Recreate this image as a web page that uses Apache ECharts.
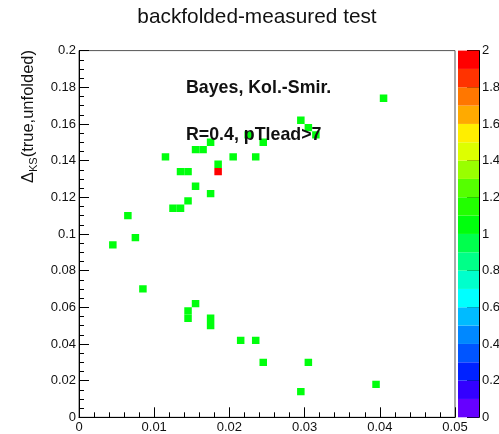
<!DOCTYPE html>
<html>
<head>
<meta charset="utf-8">
<script src="https://cdn.jsdelivr.net/npm/echarts@6/dist/echarts.min.js"></script>
<style>
  html, body { margin: 0; padding: 0; background: #ffffff; }
  #chart { width: 499px; height: 434px; }
</style>
</head>
<body>
<div id="chart"></div>
<script>
// Filled bins of the 2D histogram: bin centres and contents
const binX = [0.0045, 0.0065, 0.0075, 0.0085, 0.0115, 0.0125, 0.0135, 0.0135, 0.0145, 0.0145,
              0.0155, 0.0155, 0.0165, 0.0175, 0.0175, 0.0185, 0.0185, 0.0205, 0.0225, 0.0235,
              0.0245, 0.0295, 0.0305, 0.0315, 0.0405, 0.0155, 0.0145, 0.0145, 0.0175, 0.0175,
              0.0215, 0.0235, 0.0245, 0.0305, 0.0295, 0.0395];
const binY = [0.094, 0.110, 0.098, 0.070, 0.142, 0.114, 0.114, 0.134, 0.134, 0.118,
              0.126, 0.146, 0.146, 0.150, 0.122, 0.138, 0.134, 0.142, 0.154, 0.142,
              0.150, 0.162, 0.158, 0.154, 0.174, 0.062, 0.058, 0.054, 0.054, 0.050,
              0.042, 0.042, 0.030, 0.030, 0.014, 0.018];
const binCount = [1, 1, 1, 1, 1, 1, 1, 1, 1, 1,
                  1, 1, 1, 1, 1, 1, 2, 1, 1, 1,
                  1, 1, 1, 1, 1, 1, 1, 1, 1, 1,
                  1, 1, 1, 1, 1, 1];
// histogram binning (50 x 50 bins over [0,0.05] x [0,0.2])
const binWidthX = 0.001;
const binWidthY = 0.004;

// colour palette (z axis): band edges and colours, bottom to top
const paletteEdges = [0, 0.1, 0.2, 0.3, 0.4, 0.5, 0.6, 0.7, 0.8, 0.9, 1.0,
                      1.1, 1.2, 1.3, 1.4, 1.5, 1.6, 1.7, 1.8, 1.9, 2.0];
const paletteColors = ['#6600ff', '#3300ff', '#0022ff', '#0055ff', '#0088ff',
                       '#00bbff', '#00ffff', '#00ffcc', '#00ff88', '#00ff4d',
                       '#00ff0d', '#22ff00', '#55ff00', '#99ff00', '#ddff00',
                       '#ffee00', '#ffaa00', '#ff7700', '#ff3300', '#ff0000'];

const titleText = 'backfolded-measured test';
const noteLines = ['Bayes, Kol.-Smir.', 'R=0.4, pTlead>7'];
const yTitleParts = ['\u0394', 'KS', '(true,unfolded)'];

const FONT = '"Liberation Sans", Arial, Helvetica, sans-serif';
const TXT = '#111111';

const cellData = binX.map((x, i) => [x, binY[i], binCount[i]]);
const paletteData = paletteColors.map((c, i) => [paletteEdges[i], paletteEdges[i + 1], (paletteEdges[i] + paletteEdges[i + 1]) / 2]);

const pieces = paletteColors.map((c, i) => {
  const p = { gte: paletteEdges[i], color: c };
  if (i === paletteColors.length - 1) p.lte = paletteEdges[i + 1]; else p.lt = paletteEdges[i + 1];
  return p;
});

function renderCell(params, api) {
  const x = api.value(0), y = api.value(1);
  const p0 = api.coord([x - binWidthX / 2, y + binWidthY / 2]);
  const p1 = api.coord([x + binWidthX / 2, y - binWidthY / 2]);
  return {
    type: 'rect',
    shape: { x: p0[0], y: p0[1], width: p1[0] - p0[0], height: p1[1] - p0[1] },
    style: { fill: api.visual('color') }
  };
}

function renderBand(params, api) {
  const p0 = api.coord([0, api.value(1)]);
  const p1 = api.coord([1, api.value(0)]);
  return {
    type: 'rect',
    shape: { x: p0[0], y: p0[1], width: p1[0] - p0[0], height: p1[1] - p0[1] },
    style: { fill: api.visual('color') }
  };
}

// measure text to chain the pieces of the rotated y title
const mctx = document.createElement('canvas').getContext('2d');
function textWidth(str, size) {
  mctx.font = size + 'px ' + FONT;
  return mctx.measureText(str).width;
}
const yMainSize = 16.5, ySubSize = 11;
const wDelta = textWidth(yTitleParts[0], yMainSize);
const wSub = textWidth(yTitleParts[1], ySubSize);
const wMain = textWidth(yTitleParts[2], yMainSize);
const yTitleTop = 50;
const yTitleX = 28.5;
const yTitleStart = yTitleTop + wDelta + wSub + wMain;

const chart = echarts.init(document.getElementById('chart'), null, { renderer: 'canvas' });

const tickLabel = { color: TXT, fontSize: 13, fontFamily: FONT };

chart.setOption({
  backgroundColor: '#ffffff',
  animation: false,
  grid: [
    { left: 79, top: 50.6, width: 376, height: 366.7, show: true, borderColor: '#555555', borderWidth: 1,
      containLabel: false, outerBoundsMode: 'none' },
    { left: 458, top: 50.6, width: 21, height: 366.7, show: false,
      containLabel: false, outerBoundsMode: 'none' }
  ],
  xAxis: [
    {
      gridIndex: 0, type: 'value', min: 0, max: 0.05, interval: 0.01,
      axisLine: { show: true, onZero: false, lineStyle: { color: '#000', width: 1 } },
      axisTick: { show: true, inside: true, length: 10, lineStyle: { color: '#000' } },
      minorTick: { show: true, splitNumber: 5, length: 5, lineStyle: { color: '#000' } },
      axisLabel: Object.assign({ margin: 4 }, tickLabel),
      splitLine: { show: false }, minorSplitLine: { show: false }
    },
    { gridIndex: 1, type: 'value', min: 0, max: 1, show: false }
  ],
  yAxis: [
    {
      gridIndex: 0, type: 'value', min: 0, max: 0.2, interval: 0.02,
      axisLine: { show: true, onZero: false, lineStyle: { color: '#000', width: 1 } },
      axisTick: { show: true, inside: true, length: 10, lineStyle: { color: '#000' } },
      minorTick: { show: true, splitNumber: 4, length: 5, lineStyle: { color: '#000' } },
      axisLabel: Object.assign({ margin: 3 }, tickLabel),
      splitLine: { show: false }, minorSplitLine: { show: false }
    },
    {
      gridIndex: 1, type: 'value', position: 'right', min: 0, max: 2, interval: 0.2,
      axisLine: { show: true, onZero: false, lineStyle: { color: '#000', width: 1 } },
      axisTick: { show: true, inside: true, length: 12, lineStyle: { color: '#000' } },
      axisLabel: Object.assign({ margin: 3 }, tickLabel),
      splitLine: { show: false }
    }
  ],
  visualMap: {
    type: 'piecewise', show: false, dimension: 2, seriesIndex: [0, 1], pieces: pieces
  },
  series: [
    {
      type: 'custom', xAxisIndex: 0, yAxisIndex: 0, data: cellData,
      renderItem: renderCell, clip: true, silent: true, z: 2
    },
    {
      type: 'custom', xAxisIndex: 1, yAxisIndex: 1, data: paletteData,
      renderItem: renderBand, silent: true, z: 1
    }
  ],
  graphic: [
    {
      type: 'text', x: 257, y: 17, z: 100, silent: true,
      style: { text: titleText, align: 'center', verticalAlign: 'middle',
               font: '20.8px ' + FONT, fill: TXT }
    },
    {
      type: 'text', x: 186, y: 88.5, z: 100, silent: true,
      style: { text: noteLines[0], align: 'left', verticalAlign: 'middle',
               font: 'bold 17.8px ' + FONT, fill: TXT }
    },
    {
      type: 'text', x: 186, y: 135, z: 100, silent: true,
      style: { text: noteLines[1], align: 'left', verticalAlign: 'middle',
               font: 'bold 17.8px ' + FONT, fill: TXT }
    },
    {
      type: 'group', x: yTitleX, y: yTitleStart, rotation: Math.PI / 2, silent: true, z: 100,
      children: [
        { type: 'text', x: 0, y: 0, style: { text: yTitleParts[0], align: 'left', verticalAlign: 'middle',
            font: yMainSize + 'px ' + FONT, fill: TXT } },
        { type: 'text', x: wDelta, y: 5, style: { text: yTitleParts[1], align: 'left', verticalAlign: 'middle',
            font: ySubSize + 'px ' + FONT, fill: TXT } },
        { type: 'text', x: wDelta + wSub, y: 0, style: { text: yTitleParts[2], align: 'left', verticalAlign: 'middle',
            font: yMainSize + 'px ' + FONT, fill: TXT } }
      ]
    }
  ]
});
</script>
</body>
</html>
